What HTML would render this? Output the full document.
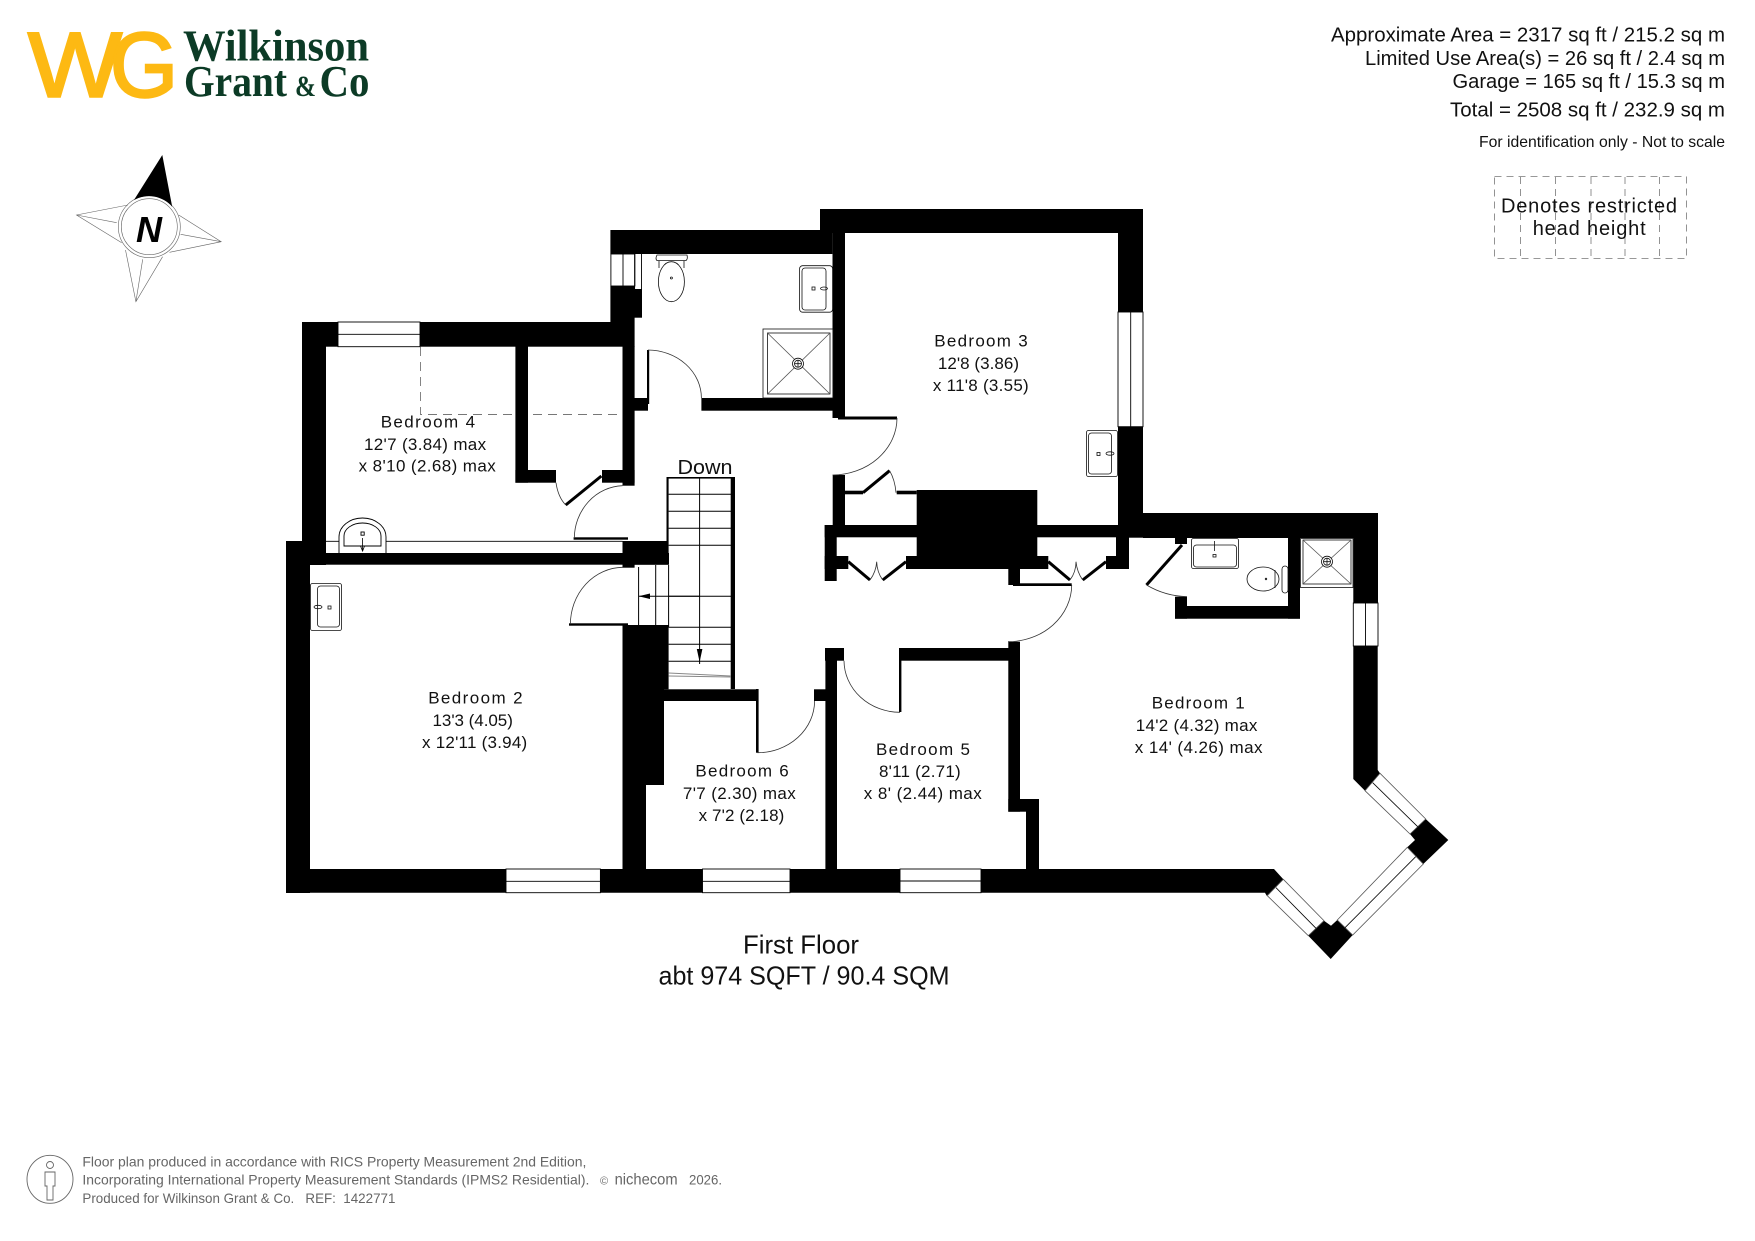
<!DOCTYPE html>
<html><head><meta charset="utf-8"><title>First Floor Plan</title>
<style>html,body{margin:0;padding:0;background:#fff;width:1755px;height:1241px;overflow:hidden}svg{display:block}
text{font-family:"Liberation Sans",sans-serif;fill:#111}</style></head><body>
<svg width="1755" height="1241" viewBox="0 0 1755 1241" xmlns="http://www.w3.org/2000/svg">
<rect width="1755" height="1241" fill="#fff"/>
<!-- logo -->
<text x="28" y="96.5" font-size="92" textLength="94" lengthAdjust="spacingAndGlyphs" style="fill:#fdb913;stroke:#fdb913;stroke-width:2.4">W</text>
<text x="110" y="96.5" font-size="92" textLength="68" lengthAdjust="spacingAndGlyphs" style="fill:#fdb913;stroke:#fdb913;stroke-width:2.4">G</text>
<text x="183" y="60.7" font-size="44" font-weight="bold" textLength="186" lengthAdjust="spacingAndGlyphs" style="fill:#0c3b26;font-family:'Liberation Serif',serif">Wilkinson</text>
<text x="184" y="96" font-size="44" font-weight="bold" textLength="103" lengthAdjust="spacingAndGlyphs" style="fill:#0c3b26;font-family:'Liberation Serif',serif">Grant</text>
<text x="295" y="96" font-size="30" font-weight="bold" textLength="21" lengthAdjust="spacingAndGlyphs" style="fill:#0c3b26;font-family:'Liberation Serif',serif">&amp;</text>
<text x="319.5" y="96" font-size="44" font-weight="bold" textLength="50" lengthAdjust="spacingAndGlyphs" style="fill:#0c3b26;font-family:'Liberation Serif',serif">Co</text>
<!-- compass -->
<g fill="none" stroke="#666" stroke-width=".6">
<path d="M128 205L76.5 215L121.7 242.7M76.5 215L116.7 222.7"/>
<path d="M178.7 215L221.2 241.7L169.5 252.3M221.2 241.7L180.6 234.3"/>
<path d="M125.5 250L135.9 301.7L162.6 256.7M135.9 301.7L142.7 259.3"/>
<circle cx="149.3" cy="226.7" r="31"/><circle cx="149.3" cy="226.7" r="28"/>
</g>
<path d="M162.3 155L134 200A31 31 0 0 1 172.2 206.7Z" fill="#000"/>
<text x="149" y="242" font-size="36" font-weight="bold" font-style="italic" text-anchor="middle" style="fill:#000">N</text>
<!-- header text -->
<g font-size="20">
<text x="1331" y="41.7" textLength="394" lengthAdjust="spacingAndGlyphs">Approximate Area = 2317 sq ft / 215.2 sq m</text>
<text x="1365" y="65" textLength="360" lengthAdjust="spacingAndGlyphs">Limited Use Area(s) = 26 sq ft / 2.4 sq m</text>
<text x="1452.5" y="88" textLength="272.5" lengthAdjust="spacingAndGlyphs">Garage = 165 sq ft / 15.3 sq m</text>
<text x="1450" y="116.7" textLength="275" lengthAdjust="spacingAndGlyphs">Total = 2508 sq ft / 232.9 sq m</text>
<text x="1479" y="147" font-size="16" textLength="246" lengthAdjust="spacingAndGlyphs">For identification only - Not to scale</text>
</g>
<!-- restricted key -->
<g fill="none" stroke="#777" stroke-width=".8" stroke-dasharray="7 5">
<rect x="1494.5" y="176.5" width="192" height="82"/>
<path d="M1520.5 177V258M1555.5 177V258M1591 177V258M1625 177V258M1659.5 177V258"/>
</g>
<text x="1501" y="212.3" font-size="20" textLength="176" lengthAdjust="spacing">Denotes restricted</text>
<text x="1532.7" y="235" font-size="20" textLength="113" lengthAdjust="spacing">head height</text>

<!-- restricted dashed in bedroom 4 -->
<path d="M420.5 347V414.5H622" fill="none" stroke="#777" stroke-width=".9" stroke-dasharray="9 6"/>

<!-- WALLS -->
<g fill="#000">
<!-- bedroom 4 -->
<rect x="302" y="322" width="332.6" height="24.7"/>
<rect x="302" y="322" width="24" height="243"/>
<rect x="622.5" y="346" width="12.1" height="139.7"/>
<rect x="515.4" y="346" width="12.6" height="136.7"/>
<rect x="515.4" y="470" width="40.6" height="12.7"/>
<rect x="602" y="470" width="32.6" height="12.7"/>
<rect x="326" y="553" width="343" height="11.7"/>
<rect x="622.5" y="541" width="46.1" height="23.7"/>
<rect x="622.5" y="541" width="12.1" height="26.7"/>
<!-- bathroom block -->
<rect x="610.4" y="230" width="222" height="24"/>
<rect x="820" y="209" width="323" height="24"/>
<rect x="610.4" y="286" width="24.2" height="36"/>
<rect x="634" y="289" width="8" height="28.7"/>
<rect x="832.5" y="232" width="12.5" height="186"/>
<rect x="701.4" y="398" width="131.5" height="12.7"/>
<rect x="634" y="398" width="14" height="12.7"/>
<rect x="647" y="350" width="2.2" height="54"/>
<!-- bedroom 3 -->
<rect x="1118" y="209" width="25" height="103"/>
<rect x="1118" y="426.7" width="25" height="111"/>
<rect x="832.7" y="475" width="12.3" height="52"/>
<rect x="845" y="490.7" width="18" height="3.6"/>
<rect x="896.7" y="490.7" width="20" height="3.6"/>
<rect x="916.7" y="490" width="120.6" height="79"/>
<rect x="824.7" y="525" width="320" height="12.3"/>
<rect x="1143" y="513" width="235" height="25"/>
<!-- closets -->
<rect x="824.7" y="525" width="12" height="56"/>
<rect x="824.7" y="556" width="23.6" height="13"/>
<rect x="906" y="556" width="11" height="13"/>
<rect x="1032.7" y="556" width="15.6" height="13"/>
<rect x="1106" y="556" width="23" height="13"/>
<rect x="1116" y="530" width="13" height="39"/>
<rect x="1008.3" y="560" width="11.7" height="25"/>
<rect x="1013" y="583.3" width="58.7" height="2.7"/>
<!-- ensuite -->
<rect x="1175" y="536" width="12" height="8"/>
<rect x="1175" y="596.7" width="12" height="22"/>
<rect x="1175" y="606" width="125" height="12.7"/>
<rect x="1288" y="536" width="12" height="82.7"/>
<!-- bedroom 1 right wall -->
<rect x="1353.3" y="513" width="24.7" height="90"/>
<path d="M1353.3 646H1377.7V770L1380 773.3L1365 790.7L1353.3 779Z"/>
<!-- bay blocks -->
<path d="M1308.3 935.7L1330.7 959L1352.7 935L1337.3 920L1331 925.7L1324 920.7Z"/>
<path d="M1425.7 819L1448.3 840L1423.3 864L1407.3 847.3L1415 840L1410 834Z"/>
<!-- bottom wall -->
<path d="M286 869H1274L1283.3 879.3L1266.7 895.7L1265 892.7H286Z"/>
<!-- bedroom 2 -->
<rect x="286" y="541" width="24" height="352"/>
<rect x="286" y="541" width="40" height="12"/>
<rect x="302" y="553" width="24" height="12"/>
<rect x="622.5" y="625" width="46.1" height="64.3"/>
<rect x="622.5" y="689" width="41.5" height="96"/>
<rect x="622.5" y="785" width="23.5" height="85"/>
<rect x="569" y="623.3" width="59" height="2.4"/>
<rect x="573.6" y="537.3" width="54.4" height="2.4"/>
<!-- stairs walls -->
<rect x="666.5" y="477" width="2.1" height="64"/>
<rect x="730.7" y="477" width="4.3" height="212"/>
<rect x="666.5" y="477" width="68.5" height="1.6"/>
<!-- bedroom 6 -->
<rect x="664" y="689.3" width="93.5" height="11.7"/>
<rect x="756" y="689" width="2.6" height="63.7"/>
<rect x="814" y="689.3" width="12.4" height="11.7"/>
<rect x="825.4" y="648.3" width="11.6" height="221"/>
<rect x="825" y="648" width="19" height="12.7"/>
<!-- bedroom 5 -->
<rect x="900" y="648" width="120" height="12.7"/>
<rect x="899" y="648" width="2.4" height="64"/>
<rect x="1008.3" y="641.7" width="11.7" height="170"/>
<rect x="1008.3" y="799" width="30.7" height="12.7"/>
<rect x="1026" y="799" width="13" height="71"/>
</g>

<!-- windows -->
<g fill="#fff" stroke="#000" stroke-width=".9">
<rect x="338" y="322" width="82" height="24.7"/><path d="M338 334.3H420" fill="none"/>
<rect x="610.9" y="254" width="24" height="32"/>
<path d="M623 254V286M634.6 254V289M641.5 254V289" fill="none"/>
<rect x="1118" y="312" width="25" height="114.7"/><path d="M1130.7 312V426.7" fill="none"/>
<rect x="506" y="869" width="94.4" height="23.7"/><path d="M506 881.3H600.4" fill="none"/>
<rect x="702.5" y="869" width="87.5" height="23.7"/><path d="M702.5 881.3H790" fill="none"/>
<rect x="900" y="869" width="81" height="23.7"/><path d="M900 881H981" fill="none"/>
<rect x="1353.3" y="603" width="24.7" height="43"/><path d="M1365.5 603V646" fill="none"/>
</g>
<g fill="#fff" stroke="#555" stroke-width=".8">
<path d="M1283.3 879.3L1324 920.7L1308.3 935.7L1267.3 895.7Z"/><path d="M1276 887.7L1316 928.3" fill="none" stroke="#000"/>
<path d="M1337.3 920L1407.3 847.3L1423.3 864L1352.7 935Z"/><path d="M1345 927.7L1415.7 856.7" fill="none" stroke="#000"/>
<path d="M1380 773.3L1425.7 819L1410 834L1365 790.7Z"/><path d="M1372.7 782.7L1417.7 826.7" fill="none" stroke="#000"/>
</g>

<!-- door leaves & arcs -->
<g fill="none" stroke="#000" stroke-width="3">
<path d="M601.4 476L565.7 505"/>
<path d="M863 492.7L889.6 470.7"/>
<path d="M848.3 561.7L870 580M906 561.7L882.7 580"/>
<path d="M1048.3 561.7L1070 580M1106 561.7L1082.7 580"/>
<path d="M1182 545L1146.5 585"/>
<path d="M838 418H897"/>
</g>
<g fill="none" stroke="#333" stroke-width=".8">
<path d="M648 350A54 48 0 0 1 701.4 398"/>
<path d="M622.5 485.7A50 53 0 0 0 574.3 538.3"/>
<path d="M556 482.7Q558 497 565.7 505"/>
<path d="M622.5 567.3A53 57 0 0 0 570.4 624.3"/>
<path d="M897 418A65 57 0 0 1 832.5 475"/>
<path d="M889.6 470.7Q895 480 896 492.7"/>
<path d="M870 580Q876 572 876.7 561.7Q877 572 882.7 580"/>
<path d="M1070 580Q1076 572 1076 561.7Q1077 572 1082.7 580"/>
<path d="M1071.7 585A64 57 0 0 1 1008 641.7"/>
<path d="M757.5 752.7A57 52 0 0 0 814.6 701"/>
<path d="M844 660.7A56 52 0 0 0 900 712.3"/>
<path d="M1146.5 585Q1165 596 1187 596.7"/>
</g>

<!-- stairs -->
<g fill="none" stroke="#000" stroke-width="1">
<path d="M668.6 494.3H731M668.6 511.3H731M668.6 528.3H731M668.6 545.3H731M668.6 596.3H731M668.6 627.3H731M668.6 644.3H731M668.6 661.3H731"/>
<path d="M699.6 477V664"/>
<path d="M638.6 567V627M655.7 565V627M668.6 565V627M638.6 596.3H699.6M634 627H668.6"/>
<path d="M668.6 673L731 676M668.6 676L731 677" stroke="#888"/>
</g>
<path d="M638.6 596.3L650 593.5V599Z" fill="#000"/>
<path d="M699.6 662L696.8 649H702.4Z" fill="#000"/>

<!-- bedroom 4 wardrobe + sink -->
<g fill="none" stroke="#000" stroke-width=".9">
<path d="M326 541.3H339M386 541.3H622.5"/>
<path d="M339 553V537A23.5 19 0 0 1 386 537V553" fill="#fff"/>
<path d="M344 546V536A18.5 13 0 0 1 381 536V546Z"/>
<rect x="361" y="532" width="3.2" height="3.2"/>
<path d="M362.6 538V551M360.5 546H364.5L362.6 551Z" stroke-width=".8"/>
</g>
<!-- bathroom fittings -->
<g fill="none" stroke="#111" stroke-width=".8">
<path d="M657 255H687Q688 259 686 260.5H657Q655 259 657 255Z"/>
<path d="M659 261V268M684 261V268"/>
<ellipse cx="671.4" cy="281.7" rx="13" ry="20"/>
<circle cx="671.4" cy="278" r="1"/>
<rect x="799.6" y="265.7" width="33" height="46.5" rx="3"/>
<rect x="802" y="268" width="24" height="42" rx="3"/>
<rect x="812" y="287" width="3" height="3"/><ellipse cx="824" cy="288.5" rx="3.5" ry="1.5"/>
<rect x="763" y="329" width="70" height="69"/>
<rect x="767.5" y="333" width="62.5" height="61"/>
<path d="M767.5 333L830 394M830 333L767.5 394" stroke="#555"/>
<circle cx="798" cy="363.7" r="5.5" fill="#fff"/><circle cx="798" cy="363.7" r="3.5"/><path d="M794.5 363.7H801.5M798 360.2V367.2"/>
</g>
<!-- bedroom 3 sink -->
<g fill="none" stroke="#111" stroke-width=".8">
<rect x="1086.5" y="430.5" width="31" height="46" rx="2"/>
<rect x="1088.5" y="433" width="23" height="41" rx="3"/>
<rect x="1097" y="452.5" width="3" height="3"/><ellipse cx="1110" cy="453.5" rx="4" ry="1.7"/>
<!-- bedroom 2 sink -->
<rect x="310.5" y="583.5" width="31" height="47" rx="2"/>
<rect x="317.5" y="586" width="22" height="41" rx="3"/>
<rect x="328" y="606" width="3" height="3"/><ellipse cx="318" cy="607" rx="4" ry="1.7"/>
<!-- ensuite fittings -->
<rect x="1191.5" y="538.5" width="47" height="30" rx="2"/>
<rect x="1193.5" y="545" width="43" height="22" rx="3"/>
<rect x="1213" y="554.5" width="3" height="2.5"/><path d="M1214.5 541V551"/>
<ellipse cx="1263" cy="579" rx="16" ry="12"/>
<path d="M1275 570V588"/>
<circle cx="1266" cy="579" r=".8"/>
<rect x="1282" y="566" width="6" height="27" rx="3"/>
<rect x="1300.5" y="538.5" width="52.5" height="49"/>
<rect x="1303" y="540" width="48" height="44"/>
<path d="M1303 540L1351 584M1351 540L1303 584" stroke="#555"/>
<circle cx="1327" cy="561.7" r="5.5" fill="#fff"/><circle cx="1327" cy="561.7" r="3.5"/><path d="M1323.5 561.7H1330.5M1327 558.2V565.2"/>
</g>

<!-- room labels -->
<g font-size="17" letter-spacing=".3">
<text x="380.7" y="427.7" textLength="94.7" lengthAdjust="spacing">Bedroom 4</text>
<text x="364" y="450" textLength="122.4" lengthAdjust="spacing">12'7 (3.84) max</text>
<text x="358.6" y="471.7" textLength="137.4" lengthAdjust="spacing">x 8'10 (2.68) max</text>
<text x="934.3" y="346.7" textLength="93.7" lengthAdjust="spacing">Bedroom 3</text>
<text x="937.9" y="369" textLength="81.4" lengthAdjust="spacing">12'8 (3.86)</text>
<text x="932.9" y="391" textLength="96.1" lengthAdjust="spacing">x 11'8 (3.55)</text>
<text x="428.2" y="703.7" textLength="94.7" lengthAdjust="spacing">Bedroom 2</text>
<text x="432.5" y="726" textLength="80.7" lengthAdjust="spacing">13'3 (4.05)</text>
<text x="422" y="748" textLength="105.5" lengthAdjust="spacing">x 12'11 (3.94)</text>
<text x="695.4" y="776.7" textLength="93.6" lengthAdjust="spacing">Bedroom 6</text>
<text x="682.9" y="799" textLength="113.1" lengthAdjust="spacing">7'7 (2.30) max</text>
<text x="698.6" y="821" textLength="86" lengthAdjust="spacing">x 7'2 (2.18)</text>
<text x="876" y="755" textLength="94.3" lengthAdjust="spacing">Bedroom 5</text>
<text x="879" y="777" textLength="82" lengthAdjust="spacing">8'11 (2.71)</text>
<text x="863.8" y="799" textLength="118.2" lengthAdjust="spacing">x 8' (2.44) max</text>
<text x="1151.7" y="708.7" textLength="93.3" lengthAdjust="spacing">Bedroom 1</text>
<text x="1135.7" y="731" textLength="122" lengthAdjust="spacing">14'2 (4.32) max</text>
<text x="1134.8" y="753" textLength="128" lengthAdjust="spacing">x 14' (4.26) max</text>
</g>
<text x="677.5" y="474" font-size="20" textLength="55" lengthAdjust="spacingAndGlyphs">Down</text>
<text x="743" y="953.5" font-size="26" textLength="116" lengthAdjust="spacingAndGlyphs">First Floor</text>
<text x="658.5" y="984.5" font-size="26" textLength="291" lengthAdjust="spacingAndGlyphs">abt 974 SQFT / 90.4 SQM</text>

<!-- footer -->
<g fill="none" stroke="#666" stroke-width=".9">
<ellipse cx="50" cy="1179.3" rx="23" ry="24"/>
<circle cx="50" cy="1165" r="3.5"/>
<path d="M45 1172H55V1186H53V1200H47V1186H45Z"/>
</g>
<g font-size="14">
<text x="82.4" y="1166.7" textLength="504" lengthAdjust="spacingAndGlyphs" style="fill:#666">Floor plan produced in accordance with RICS Property Measurement 2nd Edition,</text>
<text x="82.4" y="1184.5" textLength="507" lengthAdjust="spacingAndGlyphs" style="fill:#666">Incorporating International Property Measurement Standards (IPMS2 Residential).</text>
<text x="82.4" y="1203" textLength="313" lengthAdjust="spacingAndGlyphs" style="fill:#666">Produced for Wilkinson Grant &amp; Co.&#160;&#160; REF:&#160; 1422771</text>
<text x="600" y="1184.5" font-size="11" style="fill:#666">©</text>
<text x="614.6" y="1184.5" font-size="16" textLength="63" lengthAdjust="spacingAndGlyphs" style="fill:#666">nichecom</text>
<text x="689" y="1184.5" textLength="33" lengthAdjust="spacingAndGlyphs" style="fill:#666">2026.</text>
</g>
</svg>
</body></html>
